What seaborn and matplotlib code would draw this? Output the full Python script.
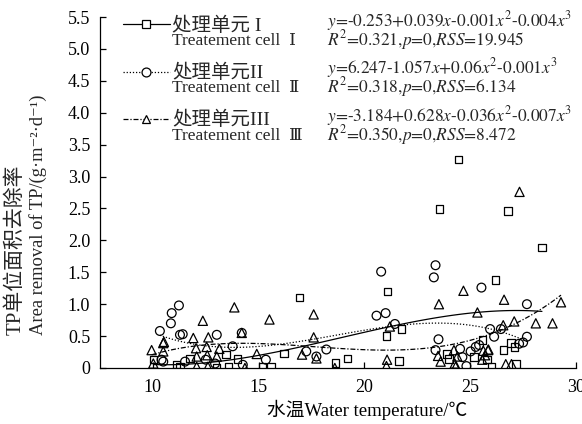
import matplotlib
matplotlib.use("Agg")
import matplotlib.pyplot as plt
from matplotlib.lines import Line2D
import seaborn as sns

# Treatment cell I (squares)
cell1_x = [10.02, 11.12, 11.28, 11.75, 13.0, 13.46, 13.57, 13.99, 15.18, 15.58,
           16.19, 16.92, 18.63, 19.21, 21.04, 21.1, 21.63, 21.74, 23.54, 23.91,
           24.0, 24.44, 25.18, 25.57, 25.8, 26.0, 26.18, 26.56, 26.79, 26.92,
           27.08, 27.16, 28.39]
cell1_y = [0.13, 0.05, 0.02, 0.15, 0.0, 0.21, 0.02, 0.14, 0.02, 0.02,
           0.23, 1.10, 0.08, 0.15, 0.50, 1.20, 0.11, 0.61, 2.49, 0.22,
           0.14, 3.27, 0.17, 0.44, 0.13, 0.02, 1.38, 0.28, 2.46, 0.39,
           0.33, 0.06, 1.89]

# Treatment cell II (circles)
cell2_x = [10.33, 10.41, 10.49, 10.85, 10.89, 11.23, 11.28, 11.41, 11.52, 12.5,
           12.94, 13.02, 13.77, 14.2, 14.25, 15.34, 17.25, 17.73, 18.2, 20.57,
           20.79, 21.0, 21.44, 23.28, 23.36, 23.5, 23.36, 24.52, 24.63, 24.82,
           25.02, 25.26, 25.42, 25.53, 25.94, 26.13, 26.45, 27.31, 27.5, 27.68,
           27.68]
cell2_y = [0.58, 0.13, 0.10, 0.70, 0.86, 0.98, 0.52, 0.53, 0.10, 0.13,
           0.07, 0.52, 0.34, 0.55, 0.05, 0.13, 0.26, 0.18, 0.29, 0.82,
           1.51, 0.86, 0.69, 1.42, 1.61, 0.45, 0.28, 0.30, 0.17, 0.03,
           0.26, 0.33, 0.36, 1.26, 0.61, 0.49, 0.61, 0.38, 0.40, 0.49,
           1.0]

# Treatment cell III (triangles)
cell3_x = [9.94, 10.02, 10.49, 10.49, 10.52, 11.91, 12.04, 12.07, 12.07, 12.36,
           12.54, 12.57, 12.6, 12.62, 13.02, 13.14, 13.85, 14.2, 14.35, 14.91,
           15.51, 17.05, 17.6, 17.6, 17.73, 18.6, 21.04, 21.07, 21.2, 23.48,
           23.52, 23.6, 24.23, 24.27, 24.39, 24.31, 24.68, 25.34, 25.57, 25.62,
           25.7, 25.84, 25.86, 26.56, 26.6, 26.68, 26.95, 27.08, 27.33, 28.1,
           28.89, 29.29]
cell3_y = [0.28, 0.07, 0.39, 0.26, 0.41, 0.47, 0.31, 0.18, 0.02, 0.74,
           0.33, 0.20, 0.02, 0.48, 0.18, 0.30, 0.95, 0.55, 0.0, 0.22,
           0.76, 0.21, 0.84, 0.48, 0.15, 0.0, 0.03, 0.13, 0.65, 0.19,
           1.0, 0.10, 0.28, 0.07, 0.18, 0.02, 1.21, 0.87, 0.13, 0.27,
           0.2, 0.28, 0.29, 0.67, 1.07, 0.06, 0.06, 0.73, 2.76, 0.70,
           0.70, 1.03]

labels_cn = ["处理单元 I", "处理单元II", "处理单元III"]
labels_en = ["Treatement cell  Ⅰ", "Treatement cell  Ⅱ", "Treatement cell  Ⅲ"]
equations = [
    r"$y\text{=-0.253+0.039}x\text{-0.001}x^{2}\text{-0.004}x^{3}$",
    r"$y\text{=6.247-1.057}x\text{+0.06}x^{2}\text{-0.001}x^{3}$",
    r"$y\text{=-3.184+0.628}x\text{-0.036}x^{2}\text{-0.007}x^{3}$",
]
stats = [
    r"$R^{2}\text{=0.321,}p\text{=0,}RSS\text{=19.945}$",
    r"$R^{2}\text{=0.318,}p\text{=0,}RSS\text{=6.134}$",
    r"$R^{2}\text{=0.350,}p\text{=0,}RSS\text{=8.472}$",
]

x_ticks = [10, 15, 20, 25, 30]
y_ticks = [0, 0.5, 1.0, 1.5, 2.0, 2.5, 3.0, 3.5, 4.0, 4.5, 5.0, 5.5]
y_ticklabels = ["0", "0.5", "1.0", "1.5", "2.0", "2.5", "3.0", "3.5", "4.0", "4.5", "5.0", "5.5"]

sns.set_theme(style="ticks")
plt.rcParams["font.family"] = ["Liberation Serif", "Noto Sans CJK SC"]
plt.rcParams["mathtext.fontset"] = "stix"
plt.rcParams["axes.unicode_minus"] = False
serif_list = ["Liberation Serif", "DejaVu Serif", "Noto Sans CJK SC"]

fig = plt.figure(figsize=(5.82, 4.24), dpi=100)
ax = fig.add_axes([100 / 582, 1 - 368 / 424, 476 / 582, 351 / 424])

series = [
    (cell1_x, cell1_y, "s", 28, "-"),
    (cell2_x, cell2_y, "o", 40, (0, (1, 1.5))),
    (cell3_x, cell3_y, "^", 44, (0, (4, 1.5, 1, 1.5))),
]

handles = []
for xs, ys, mk, sz, ls in series:
    sns.scatterplot(x=xs, y=ys, marker=mk, s=sz, facecolor="none",
                    edgecolor="black", linewidth=0.9, ax=ax, zorder=3)
    # cubic fit per treatment cell
    sns.regplot(x=xs, y=ys, order=3, ci=None, scatter=False, ax=ax,
                line_kws=dict(color="black", lw=0.9, ls=ls, zorder=2))
    handles.append(Line2D([], [], color="black", lw=0.9, ls=ls, marker=mk,
                          mfc="white", mec="black", mew=0.9,
                          ms=5.6 if mk == "s" else 6.4))

ax.set_xlim(7.5, 30)
ax.set_ylim(0, 5.5)
ax.set_xticks(x_ticks)
ax.set_yticks(y_ticks)
ax.set_yticklabels(y_ticklabels)
ax.tick_params(direction="in", length=4, width=0.9, labelsize=13, colors="black")
ax.tick_params(axis="x", pad=8)
ax.tick_params(axis="y", pad=7)
for side in ["top", "right"]:
    ax.spines[side].set_visible(False)
for side in ["left", "bottom"]:
    ax.spines[side].set_linewidth(0.9)
    ax.spines[side].set_color("black")

leg = ax.legend(handles, labels_cn, loc="upper left", bbox_to_anchor=(0.048, 1.0),
                frameon=False, fontsize=14, handlelength=2.4, handletextpad=0.15,
                labelspacing=1.48, borderaxespad=0.0, borderpad=0.0)

for i in range(3):
    y_cn = 24 + i * 47.5
    ax.text((172 - 100) / 476, (368 - (y_cn + 17)) / 351, labels_en[i],
            transform=ax.transAxes, fontsize=12.5, va="center", ha="left",
            family=serif_list)
    ax.text((327 - 100) / 476, (368 - (y_cn - 3)) / 351, equations[i],
            transform=ax.transAxes, fontsize=12.5, va="center", ha="left")
    ax.text((327 - 100) / 476, (368 - (y_cn + 16)) / 351, stats[i],
            transform=ax.transAxes, fontsize=12.5, va="center", ha="left")

ax.set_xlabel("水温Water temperature/℃", fontsize=13.5, color="black")
ax.xaxis.set_label_coords((367 - 100) / 476, -0.09)
ax.set_ylabel("")

fig.text(16 / 582, 1 - 335 / 424, "TP单位面积去除率", rotation=90,
         rotation_mode="anchor", ha="left", va="center", fontsize=15)
fig.text(38 / 582, 1 - 335 / 424, "Area removal of TP/(g·m⁻²·d⁻¹)", rotation=90,
         rotation_mode="anchor", ha="left", va="center", fontsize=13.3,
         family=serif_list)

fig.savefig("out.png", dpi=100)
